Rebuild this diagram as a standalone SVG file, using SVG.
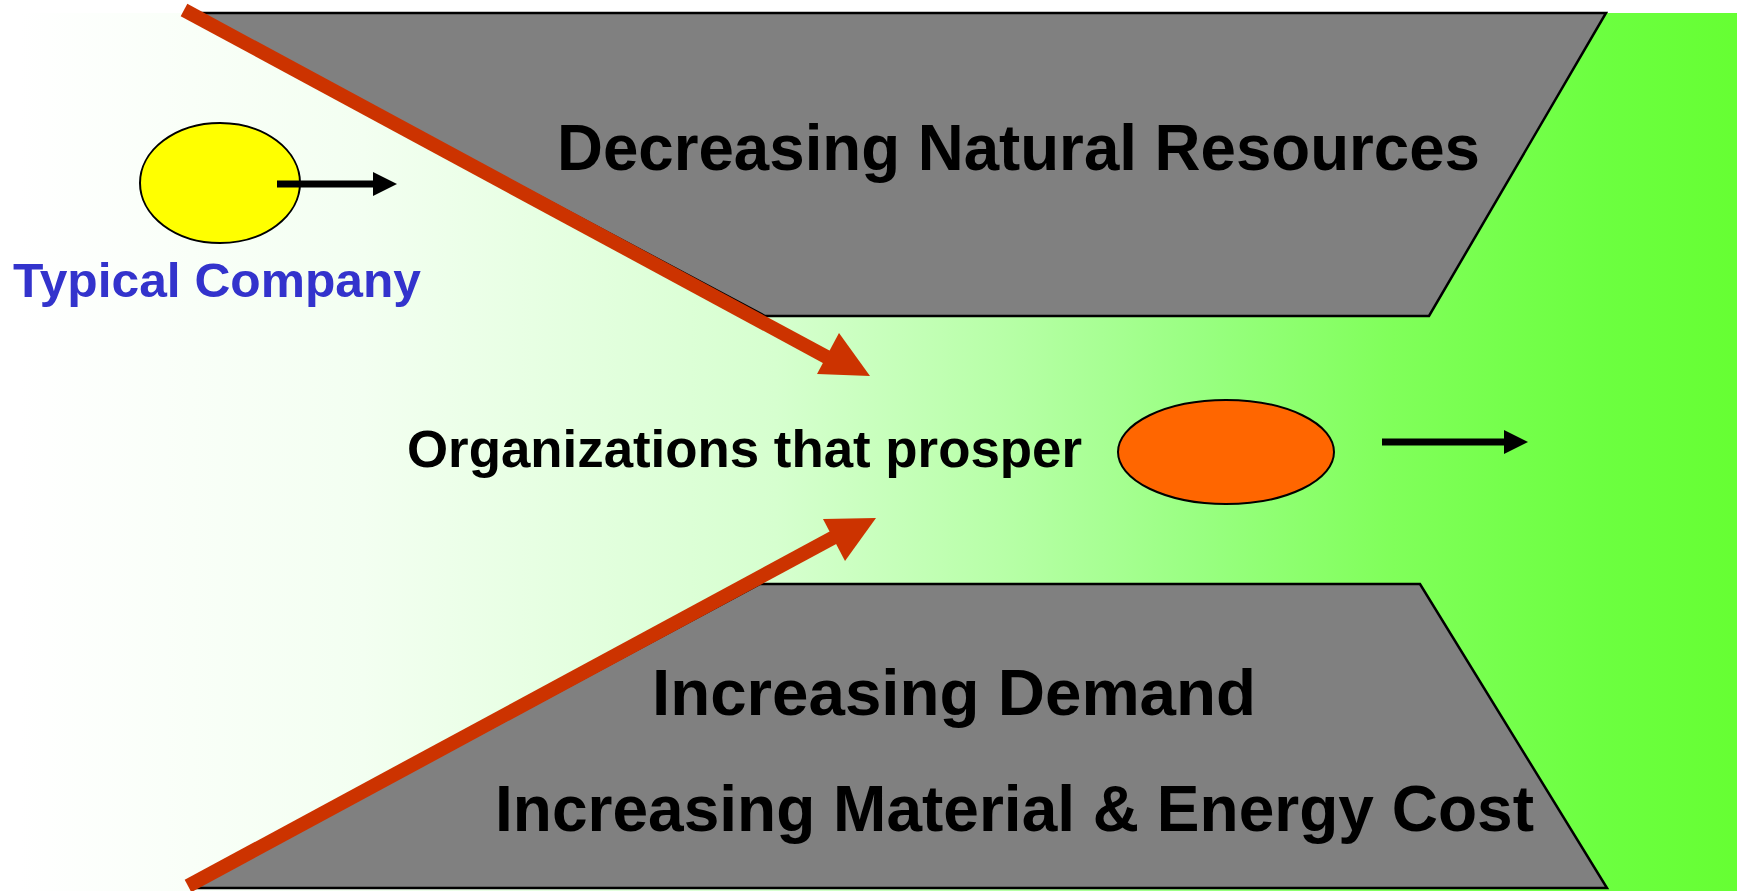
<svg xmlns="http://www.w3.org/2000/svg" width="1737" height="891" viewBox="0 0 1737 891">
<defs>
<linearGradient id="bg" x1="20" y1="0" x2="1737" y2="0" gradientUnits="userSpaceOnUse">
<stop offset="0" stop-color="#ffffff"/>
<stop offset="0.2" stop-color="#f3fff1"/>
<stop offset="0.44" stop-color="#d6ffcf"/>
<stop offset="0.57" stop-color="#b8ffa8"/>
<stop offset="0.69" stop-color="#98ff80"/>
<stop offset="0.8" stop-color="#80ff5a"/>
<stop offset="0.92" stop-color="#6cff40"/>
<stop offset="1" stop-color="#66ff33"/>
</linearGradient>
<marker id="blk" markerUnits="userSpaceOnUse" markerWidth="24" markerHeight="24" refX="0" refY="12" orient="auto">
<path d="M0,0 L24,12 L0,24 z" fill="#000"/>
</marker>
</defs>
<style>
.band{fill:#808080;stroke:#000;stroke-width:2.5;stroke-linejoin:miter}
.big{font-family:"Liberation Sans",Arial,sans-serif;font-weight:bold;font-size:64px;fill:#000}
.mid{font-family:"Liberation Sans",Arial,sans-serif;font-weight:bold;font-size:51px;fill:#000}
.blue{font-family:"Liberation Sans",Arial,sans-serif;font-weight:bold;font-size:48px;fill:#3333cc}
.red{stroke:#cc3300;stroke-width:14;fill:none;stroke-linecap:butt}
.head{fill:#cc3300}
.blkline{stroke:#000;stroke-width:7;fill:none}
</style>
<rect x="20" y="13" width="1717" height="878" fill="url(#bg)"/>
<g id="top-band">
<polygon class="band" points="195,13 1606,13 1429,316 765,316"/>
<text class="big" x="557" y="170" textLength="923" lengthAdjust="spacingAndGlyphs">Decreasing Natural Resources</text>
</g>
<g id="bottom-band">
<polygon class="band" points="760,584 1420,584 1607,888 192,888"/>
<text class="big" x="652" y="715" textLength="604" lengthAdjust="spacingAndGlyphs">Increasing Demand</text>
<text class="big" x="495" y="831" textLength="1039" lengthAdjust="spacingAndGlyphs">Increasing Material &amp; Energy Cost</text>
</g>
<g id="typical-company">
<ellipse cx="220" cy="183" rx="80" ry="60" fill="#ffff00" stroke="#000" stroke-width="2"/>
<text class="blue" x="13" y="297" textLength="408" lengthAdjust="spacingAndGlyphs">Typical Company</text>
</g>
<g id="prosper">
<text class="mid" x="407" y="467" textLength="675" lengthAdjust="spacingAndGlyphs">Organizations that prosper</text>
<ellipse cx="1226" cy="452" rx="108" ry="52" fill="#ff6600" stroke="#000" stroke-width="2"/>
</g>
<g id="connectors">
<line class="red" x1="184" y1="10" x2="834" y2="361"/>
<polygon class="head" points="817,374 839,333 870,376"/>
<line class="red" x1="188" y1="886" x2="838" y2="535"/>
<polygon class="head" points="823,519 876,518 845,561"/>
<line class="blkline" x1="277" y1="184" x2="373" y2="184" marker-end="url(#blk)"/>
<line class="blkline" x1="1382" y1="442" x2="1504" y2="442" marker-end="url(#blk)"/>
</g>
</svg>
